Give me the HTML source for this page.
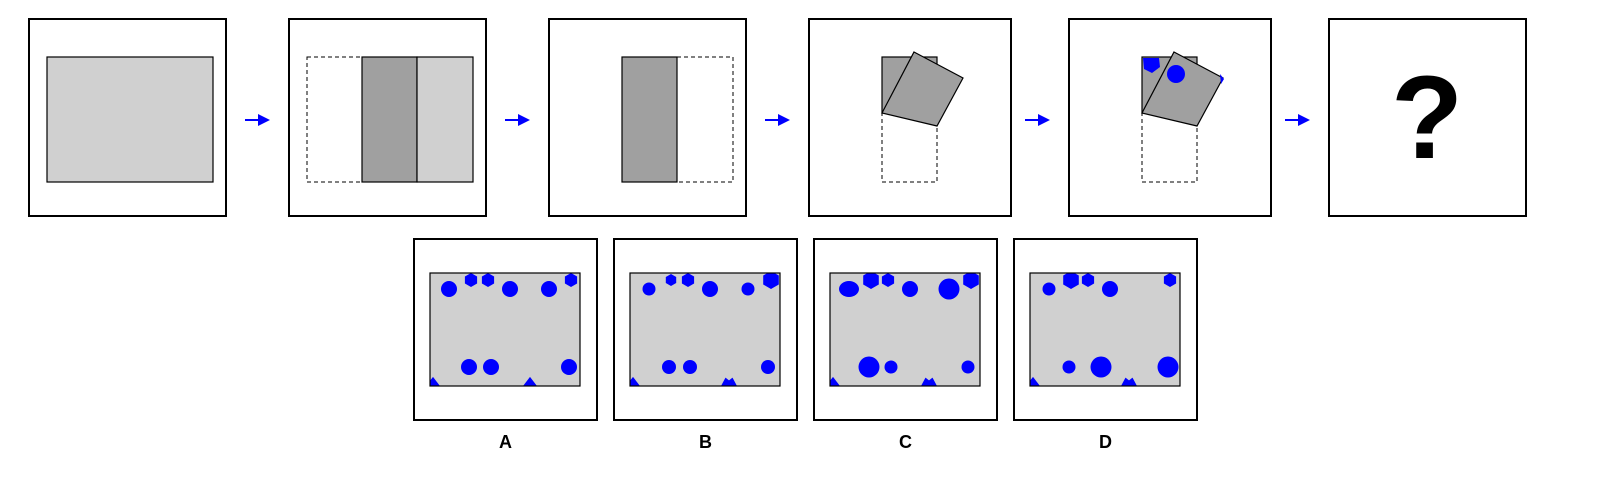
<!DOCTYPE html>
<html><head><meta charset="utf-8"><style>
html,body{margin:0;padding:0;background:#fff;}
svg{display:block;font-family:"Liberation Sans",sans-serif;}
</style></head><body>
<svg id="s" width="1610" height="490" viewBox="0 0 1610 490" xmlns="http://www.w3.org/2000/svg">
<defs>
<marker id="ah" markerWidth="6" markerHeight="6" refX="5" refY="3" orient="auto"><path d="M0,0 L6,3 L0,6 Z" fill="#0000ff"/></marker>
<clipPath id="cpg"><rect x="0" y="0" width="150" height="113"/></clipPath>
</defs>
<g transform="translate(29,19)">
<rect x="0" y="0" width="197" height="197" fill="#fff" stroke="#000" stroke-width="2"/>
<rect x="18" y="38" width="166" height="125" fill="#d0d0d0" stroke="#000" stroke-width="1.2"/>
</g>
<g transform="translate(289,19)">
<rect x="0" y="0" width="197" height="197" fill="#fff" stroke="#000" stroke-width="2"/>
<rect x="18" y="38" width="55" height="125" fill="none" stroke="#000" stroke-width="1" stroke-dasharray="4,3"/>
<rect x="73" y="38" width="55" height="125" fill="#a0a0a0" stroke="#000" stroke-width="1.2"/>
<rect x="128" y="38" width="56" height="125" fill="#d0d0d0" stroke="#000" stroke-width="1.2"/>
</g>
<g transform="translate(549,19)">
<rect x="0" y="0" width="197" height="197" fill="#fff" stroke="#000" stroke-width="2"/>
<rect x="73" y="38" width="55" height="125" fill="#a0a0a0" stroke="#000" stroke-width="1.2"/>
<rect x="128" y="38" width="56" height="125" fill="none" stroke="#000" stroke-width="1" stroke-dasharray="4,3"/>
</g>
<g transform="translate(809,0)">
<rect x="0" y="19" width="202" height="197" fill="#fff" stroke="#000" stroke-width="2"/>
<rect x="73" y="57" width="55" height="56" fill="#a0a0a0" stroke="#000" stroke-width="1.2"/>
<rect x="73" y="113" width="55" height="69" fill="none" stroke="#000" stroke-width="1" stroke-dasharray="4,3"/>
<polygon points="105,52 154,78 128,126 73,113" fill="#a0a0a0" stroke="#000" stroke-width="1.2"/>
</g>
<g transform="translate(1069,0)">
<rect x="0" y="19" width="202" height="197" fill="#fff" stroke="#000" stroke-width="2"/>
<rect x="73" y="57" width="55" height="56" fill="#a0a0a0" stroke="#000" stroke-width="1.2"/>
<polygon points="74,58 90,58 91,67 83,73 75,69" fill="#0000ff"/>
<rect x="73" y="113" width="55" height="69" fill="none" stroke="#000" stroke-width="1" stroke-dasharray="4,3"/>
<polygon points="105,52 154,78 128,126 73,113" fill="#a0a0a0" stroke="#000" stroke-width="1.2"/>
<circle cx="107" cy="74" r="9" fill="#0000ff"/>
<polygon points="151,74 155,79 152,84" fill="#0000ff"/>
</g>
<g transform="translate(1329,19)">
<rect x="0" y="0" width="197" height="197" fill="#fff" stroke="#000" stroke-width="2"/>
<text x="98" y="139" text-anchor="middle" font-size="118" font-weight="bold" fill="#000">?</text>
</g>
<g id="arrows"></g>
<g id="opts"></g>
</svg>
<script>
const NS="http://www.w3.org/2000/svg";
const optLabels=["A","B","C","D"];
const optA=[["c",19,16,8],["h",41,7,7],["h",58,7,7],["c",80,16,8],["c",119,16,8],["h",141,7,7],
 ["c",39,94,8],["c",61,94,8],["c",139,94,8],["t",3,113,7],["t",100,113,7]];
const optB=[["c",19,16,6.5],["h",41,7,6],["h",58,7,7],["c",80,16,8],["c",118,16,6.5],["h",141,7,9],
 ["c",39,94,7],["c",60,94,7],["c",138,94,7],["t",3,113,7],["m",99,113,7]];
const optC=[["e",19,16,10],["h",41,7,9],["h",58,7,7],["c",80,16,8],["c",119,16,10.5],["h",141,7,9],
 ["c",39,94,10.5],["c",61,94,6.5],["c",138,94,6.5],["t",3,113,7],["m",99,113,7]];
const optD=[["c",19,16,6.5],["h",41,7,9],["h",58,7,7],["c",80,16,8],["h",140,7,7],
 ["c",39,94,6.5],["c",71,94,10.5],["c",138,94,10.5],["t",3,113,7],["m",99,113,7]];
const optShapes=[optA,optB,optC,optD];
const arrowX=[238,498,758,1018,1278];

const arrows=document.getElementById("arrows");
arrowX.forEach(x=>{
  const l=document.createElementNS(NS,"line");
  l.setAttribute("x1",x+7);l.setAttribute("x2",x+30);l.setAttribute("y1",120);l.setAttribute("y2",120);
  l.setAttribute("stroke","#0000ff");l.setAttribute("stroke-width","2");l.setAttribute("marker-end","url(#ah)");
  
  
  arrows.appendChild(l);
});
function hex(cx,cy,r){let p=[];for(let i=0;i<6;i++){const a=Math.PI/6+i*Math.PI/3;p.push((cx+r*Math.cos(a)).toFixed(1)+","+(cy+r*Math.sin(a)).toFixed(1));}return p.join(" ");}
const opts=document.getElementById("opts");
optShapes.forEach((shapes,i)=>{
  const bx=414+i*200, by=239;
  const g=document.createElementNS(NS,"g");
  g.setAttribute("transform",`translate(${bx},${by})`);
  
  
  const box=document.createElementNS(NS,"rect");
  box.setAttribute("x",0);box.setAttribute("y",0);box.setAttribute("width",183);box.setAttribute("height",181);
  box.setAttribute("fill","#fff");box.setAttribute("stroke","#000");box.setAttribute("stroke-width","2");
  g.appendChild(box);
  const outer=document.createElementNS(NS,"g");
  outer.setAttribute("transform","translate(16,34)");
  const bg=document.createElementNS(NS,"rect");
  bg.setAttribute("x",0);bg.setAttribute("y",0);bg.setAttribute("width",150);bg.setAttribute("height",113);
  bg.setAttribute("fill","#d0d0d0");
  outer.appendChild(bg);
  const sg=document.createElementNS(NS,"g");
  sg.setAttribute("clip-path","url(#cpg)");
  shapes.forEach(s=>{
    const [t,x,y,r]=s;let el;
    if(t==="c"){el=document.createElementNS(NS,"circle");el.setAttribute("cx",x);el.setAttribute("cy",y);el.setAttribute("r",r);}
    else if(t==="e"){el=document.createElementNS(NS,"ellipse");el.setAttribute("cx",x);el.setAttribute("cy",y);el.setAttribute("rx",r);el.setAttribute("ry",r*0.8);}
    else if(t==="h"){el=document.createElementNS(NS,"polygon");el.setAttribute("points",hex(x,y,r));}
    else if(t==="t"){el=document.createElementNS(NS,"polygon");el.setAttribute("points",`${x-r},${y} ${x},${y-r*1.3} ${x+r},${y}`);}
    else {el=document.createElementNS(NS,"polygon");el.setAttribute("points",`${x-r-1},${y} ${x-r/2},${y-r*1.2} ${x},${y-r*0.8} ${x+r/2},${y-r*1.2} ${x+r+1},${y}`);}
    el.setAttribute("fill","#0000ff");
    
    
    sg.appendChild(el);
  });
  outer.appendChild(sg);
  const br=document.createElementNS(NS,"rect");
  br.setAttribute("x",0);br.setAttribute("y",0);br.setAttribute("width",150);br.setAttribute("height",113);
  br.setAttribute("fill","none");br.setAttribute("stroke","#000");br.setAttribute("stroke-width","1.2");
  outer.appendChild(br);
  g.appendChild(outer);
  const tx=document.createElementNS(NS,"text");
  tx.setAttribute("x",91.5);tx.setAttribute("y",209);tx.setAttribute("text-anchor","middle");
  tx.setAttribute("font-size","18");tx.setAttribute("font-weight","bold");
  tx.textContent=optLabels[i];
  
  
  g.appendChild(tx);
  opts.appendChild(g);
});
</script>
</body></html>
